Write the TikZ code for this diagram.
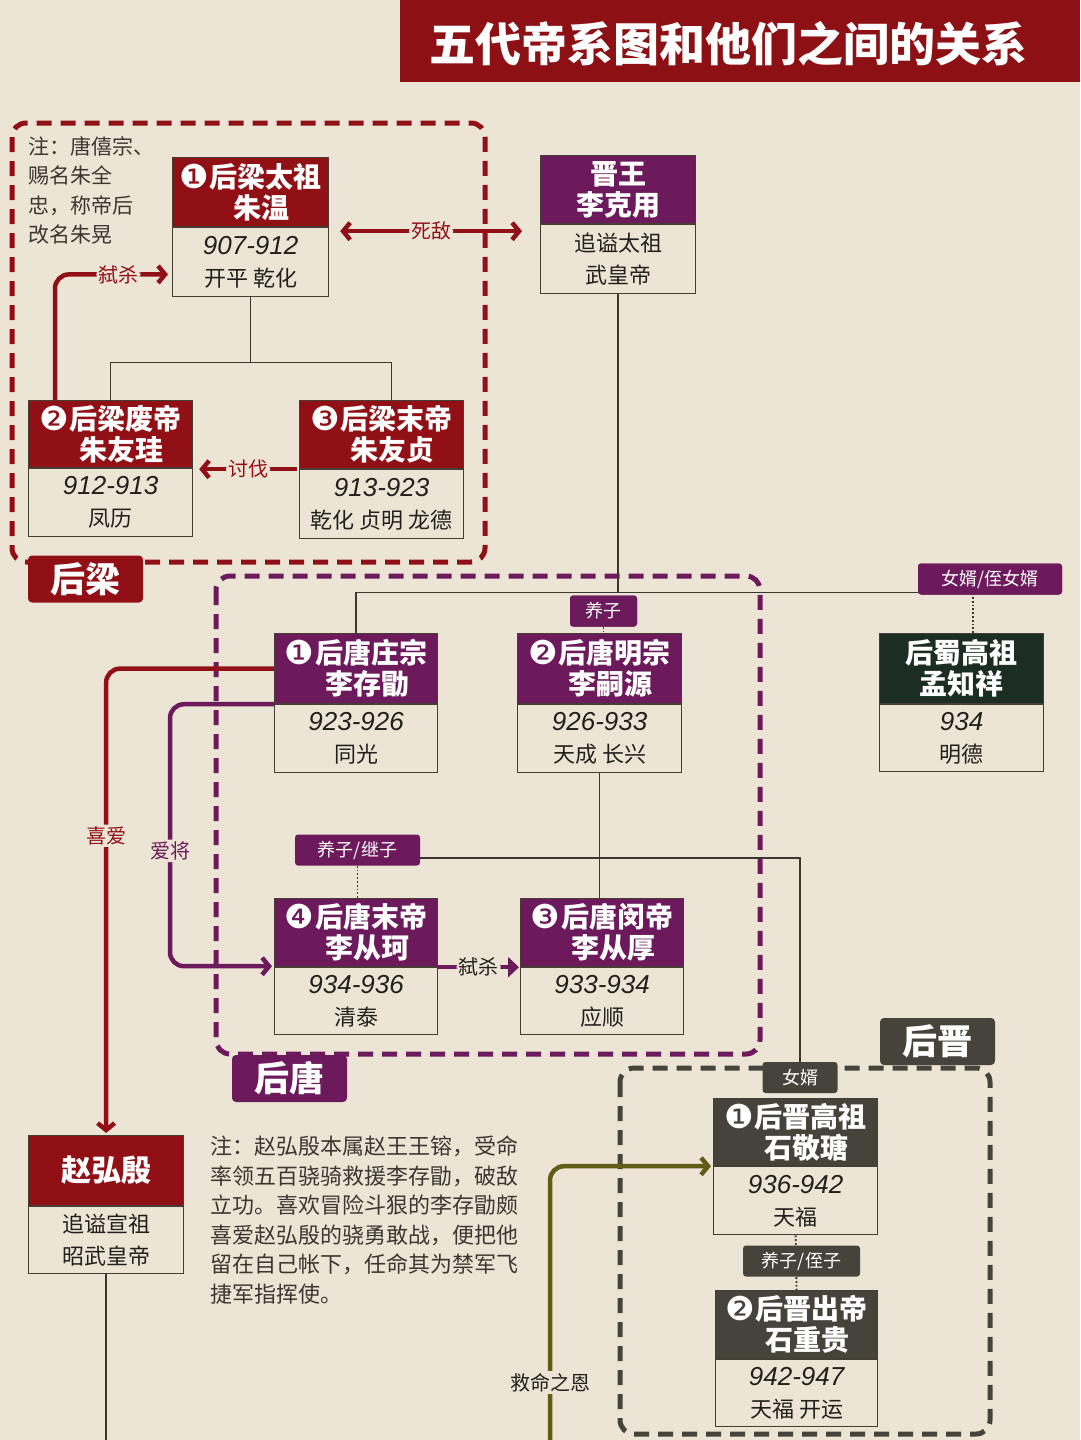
\documentclass[tikz,border=0pt]{standalone}
\usepackage{fontspec}
\setmainfont{Noto Sans CJK SC}
\newfontfamily\dv{DejaVu Sans}
\newfontfamily\yrf{Liberation Sans}
\usetikzlibrary{arrows.meta,calc}
\definecolor{paper}{RGB}{236,229,214}
\definecolor{tred}{RGB}{140,16,20}
\definecolor{lred}{RGB}{145,16,22}
\definecolor{purp}{RGB}{108,26,92}
\definecolor{shu}{RGB}{28,46,36}
\definecolor{jin}{RGB}{70,68,58}
\definecolor{olive}{RGB}{98,92,22}
\definecolor{ink}{RGB}{35,32,28}
\definecolor{note}{RGB}{60,55,48}
\definecolor{boxline}{RGB}{70,62,52}
\definecolor{treeline}{RGB}{60,56,48}
\newcommand\fsz[2]{\fontsize{#1}{#2}\selectfont}
\newcommand\cnum[1]{\smash{\raisebox{-1pt}{\dv\mdseries\fsz{33}{31}#1}}\kern1pt}
\newcommand\yr[1]{{\yrf\itshape\fsz{26}{30}#1}}
\newcommand\empbox[9]{%
  \node[hdr, fill=#7, minimum width=#4pt, minimum height=#5pt] (#1h) at (#2,#3) {#8};
  \node[bdy, minimum width=#4pt, minimum height=#6pt] (#1) at (#1h.south west) {#9};
}
\begin{document}
\begin{tikzpicture}[x=1pt,y=-1pt,
  >={Straight Barb[length=7pt,width=17pt]},
  hdr/.style={anchor=north west, draw=boxline, line width=1.2pt, inner sep=0pt, text=white, align=center, font=\bfseries\fsz{28}{31}},
  bdy/.style={anchor=north west, draw=boxline, line width=1.2pt, inner sep=0pt, text=ink, align=center, font=\fsz{22}{32}},
  tagbox/.style={rounded corners=3pt, inner xsep=6pt, inner ysep=0pt, minimum height=31pt, text=white, font=\fsz{18}{18}},
  tabbox/.style={rounded corners=4pt, minimum width=115pt, minimum height=47pt, inner sep=0pt, text=white, font=\bfseries\fsz{35}{35}},
  tree/.style={draw=treeline, line width=1.3pt},
  dotl/.style={draw=treeline, line width=1.8pt, dotted},
  lblnode/.style={fill=paper, inner sep=2pt, font=\fsz{20}{20}},
  framebox/.style={line width=5pt, dash pattern=on 15pt off 9pt, rounded corners=14pt},
  rarr/.style={draw=lred, line width=4.5pt, rounded corners=14pt},
  parr/.style={draw=purp, line width=4.5pt, rounded corners=14pt},
  oarr/.style={draw=olive, line width=4.5pt, rounded corners=14pt},
  notetext/.style={anchor=north west, inner sep=0pt, align=left, text=note, font=\fsz{21}{29.5}}
]
\useasboundingbox (0,0) rectangle (1080,1440);
\fill[paper] (0,0) rectangle (1080,1440);

% title
\node[fill=tred, minimum width=680pt, minimum height=82pt, anchor=north west, inner sep=0pt] (tbar) at (400,0) {};
\node[text=white, font=\bfseries\fsz{46}{46}] (title) at ($(tbar.center)+(-12,3)$) {五代帝系图和他们之间的关系};

% frames
\draw[framebox, draw=lred] (12,123) rectangle (485,562);
\draw[framebox, draw=purp] (216,576) rectangle (760,1054);
\draw[framebox, draw=jin] (620,1068) rectangle (990,1434);

% tabs
\node[tabbox, fill=lred] (tabl) at (85.5,579) {后梁};
\node[tabbox, fill=purp] (tabt) at (289.5,1078.5) {后唐};
\node[tabbox, fill=jin] (tabj) at (937.5,1041.5) {后晋};

% notes
\node[notetext] (n1) at (28,136) {注：唐僖宗、\\赐名朱全\\忠，称帝后\\改名朱晃};
\node[notetext, font=\fsz{22}{29.5}] (n2) at (210,1136) {注：赵弘殷本属赵王王镕，受命\\率领五百骁骑救援李存勖，破敌\\立功。喜欢冒险斗狠的李存勖颇\\喜爱赵弘殷的骁勇敢战，便把他\\留在自己帐下，任命其为禁军飞\\捷军指挥使。};

% emperors
\empbox{ltz}{172}{157}{156}{69}{69}{lred}{\cnum{❶}后梁太祖\\\hspace*{22pt}朱温}{\yr{907-912}\\开平\ 乾化}
\empbox{lky}{540}{155}{155}{68}{69}{purp}{晋王\\李克用}{追谥太祖\\武皇帝}
\empbox{lfd}{28}{400}{164}{67}{68}{lred}{\cnum{❷}后梁废帝\\\hspace*{22pt}朱友珪}{\yr{912-913}\\凤历}
\empbox{lmd}{299}{400}{164}{68}{69}{lred}{\cnum{❸}后梁末帝\\\hspace*{22pt}朱友贞}{\yr{913-923}\\乾化\ 贞明\ 龙德}
\empbox{lcx}{274}{633}{163}{70}{68}{purp}{\cnum{❶}后唐庄宗\\\hspace*{22pt}李存勖}{\yr{923-926}\\同光}
\empbox{lsy}{517}{633}{164}{70}{68}{purp}{\cnum{❷}后唐明宗\\\hspace*{22pt}李嗣源}{\yr{926-933}\\天成\ 长兴}
\empbox{mzx}{879}{633}{164}{70}{67}{shu}{后蜀高祖\\孟知祥}{\yr{934}\\明德}
\empbox{lck}{274}{898}{163}{68}{67}{purp}{\cnum{❹}后唐末帝\\\hspace*{22pt}李从珂}{\yr{934-936}\\清泰}
\empbox{lch}{520}{898}{163}{68}{67}{purp}{\cnum{❸}后唐闵帝\\\hspace*{22pt}李从厚}{\yr{933-934}\\应顺}
\empbox{zhy}{28}{1135}{155}{70}{67}{lred}{\fsz{30}{31}赵弘殷}{\fsz{22}{30}追谥宣祖\\昭武皇帝}
\empbox{sjt}{713}{1098}{164}{67}{68}{jin}{\cnum{❶}后晋高祖\\\hspace*{22pt}石敬瑭}{\yr{936-942}\\天福}
\empbox{scg}{715}{1290}{162}{68}{67}{jin}{\cnum{❷}后晋出帝\\\hspace*{22pt}石重贵}{\yr{942-947}\\天福\ 开运}

% Liang tree
\draw[tree] (ltz.south) -- ++(0,65) coordinate (lj);
\draw[tree] (lfdh.north) |- (lj) -| ($(lmdh.north)+(10,0)$);

% Liang arrows
\draw[rarr, ->] ($(lfdh.north west)+(27,0)$) |- node[lblnode, text=lred, pos=0.78]{弑杀} ($(ltz.south west)+(-4,-23)$);
\draw[rarr, <->] ($(ltzh.south east)+(11,4)$) -- node[lblnode, text=lred]{死敌} ($(lkyh.south west)+(-18,7)$);
\draw[rarr, ->] ($(lmdh.south west)+(-2,0)$) -- node[lblnode, text=lred]{讨伐} ($(lfdh.south east)+(6,1)$);

% Tang tree
\coordinate (bar) at (617,593);
\draw[tree] (lky.south) -- (lky.south |- bar);
\node[tagbox, fill=purp, minimum width=67pt] (yz) at (603.5,611) {养子};
\node[tagbox, fill=purp, minimum width=144pt] (nxz) at (990,579) {女婿/侄女婿};
\draw[tree] (lcxh.north) |- ($(nxz.south west)+(0,-2)$);
\draw[dotl] (yz.south) -- (yz.south |- lsyh.north);
\draw[dotl] ($(mzxh.north)+(11,0)$) -- ++(0,-38);
\node[tagbox, fill=purp, minimum width=144pt] at (nxz) {女婿/侄女婿};
\node[tagbox, fill=purp, minimum width=67pt] at (yz) {养子};

\draw[tree] (lsy.south) -- (lsy.south |- lchh.north);
\node[tagbox, fill=purp, minimum width=125pt] (yzjz) at (357.5,850) {养子/继子};
\node[tagbox, fill=jin, minimum width=75pt] (nx) at (800,1077.5) {女婿};
\draw[dotl] (yzjz.south) -- (yzjz.south |- lckh.north);
\draw[tree] ($(yzjz.east)+(0,8)$) -| (nx.north);

% Tang arrows
\draw[parr, -{Triangle[length=11pt,width=20pt]}] (lckh.south east) -- node[lblnode, text=ink]{弑杀} ($(lchh.south west)+(-1,0)$);
\draw[rarr, ->] (lcxh.west) -| node[lblnode, pos=0.68, text=lred]{喜爱} ($(zhyh.north)+(0,-2)$);
\draw[parr, ->] (lcxh.south west) -- ++(-104,0) |- node[lblnode, pos=0.28, text=purp]{爱将} ($(lckh.south west)+(-2,-1)$);

% Zhao
\coordinate (zbot) at (105.5,1440);
\draw[tree] (zhy.south) -- (zhy.south |- zbot);

% Jin
\coordinate (jbot) at (550,1440);
\draw[oarr, ->] (jbot) |- node[lblnode, pos=0.105, text=ink]{救命之恩} ($(sjth.south west)+(-2,0)$);
\draw[dotl] (sjt.south) -- (scgh.north);
\node[tagbox, fill=jin, minimum width=117pt] (yzzz) at (801.5,1261) {养子/侄子};
\end{tikzpicture}
\end{document}
